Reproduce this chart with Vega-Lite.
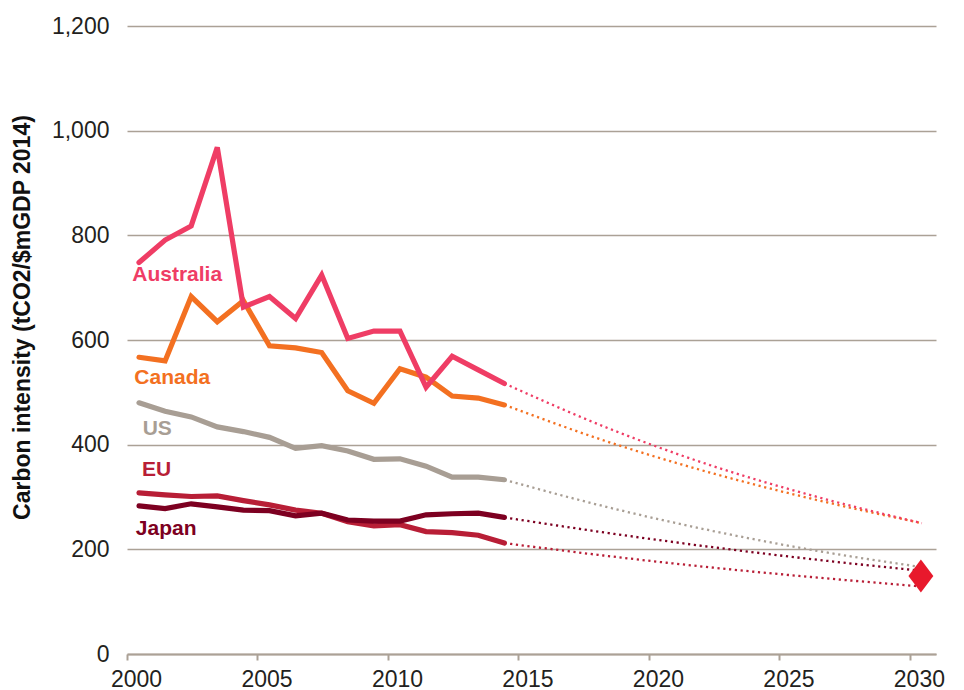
{
  "$schema": "https://vega.github.io/schema/vega-lite/v6.json",
  "width": 809,
  "height": 628,
  "autosize": {"type": "none"},
  "padding": {"left": 127, "top": 26, "right": 28, "bottom": 36},
  "background": "white",
  "config": {
    "view": {"stroke": null},
    "font": "Liberation Sans",
    "axis": {"labelFont": "Liberation Sans", "titleFont": "Liberation Sans", "labelColor": "#231f20", "titleColor": "#111111"}
  },
  "datasets": {
    "hist": [
      {"country": "EU", "year": 2000, "value": 308}, {"country": "EU", "year": 2001, "value": 304}, {"country": "EU", "year": 2002, "value": 301}, {"country": "EU", "year": 2003, "value": 302}, {"country": "EU", "year": 2004, "value": 293}, {"country": "EU", "year": 2005, "value": 285}, {"country": "EU", "year": 2006, "value": 275}, {"country": "EU", "year": 2007, "value": 269}, {"country": "EU", "year": 2008, "value": 253}, {"country": "EU", "year": 2009, "value": 245}, {"country": "EU", "year": 2010, "value": 247}, {"country": "EU", "year": 2011, "value": 234}, {"country": "EU", "year": 2012, "value": 232}, {"country": "EU", "year": 2013, "value": 227}, {"country": "EU", "year": 2014, "value": 212},
      {"country": "Japan", "year": 2000, "value": 283}, {"country": "Japan", "year": 2001, "value": 278}, {"country": "Japan", "year": 2002, "value": 287}, {"country": "Japan", "year": 2003, "value": 281}, {"country": "Japan", "year": 2004, "value": 275}, {"country": "Japan", "year": 2005, "value": 274}, {"country": "Japan", "year": 2006, "value": 264}, {"country": "Japan", "year": 2007, "value": 269}, {"country": "Japan", "year": 2008, "value": 256}, {"country": "Japan", "year": 2009, "value": 254}, {"country": "Japan", "year": 2010, "value": 254}, {"country": "Japan", "year": 2011, "value": 266}, {"country": "Japan", "year": 2012, "value": 268}, {"country": "Japan", "year": 2013, "value": 269}, {"country": "Japan", "year": 2014, "value": 261},
      {"country": "US", "year": 2000, "value": 480}, {"country": "US", "year": 2001, "value": 464}, {"country": "US", "year": 2002, "value": 453}, {"country": "US", "year": 2003, "value": 434}, {"country": "US", "year": 2004, "value": 425}, {"country": "US", "year": 2005, "value": 414}, {"country": "US", "year": 2006, "value": 393}, {"country": "US", "year": 2007, "value": 398}, {"country": "US", "year": 2008, "value": 388}, {"country": "US", "year": 2009, "value": 372}, {"country": "US", "year": 2010, "value": 373}, {"country": "US", "year": 2011, "value": 359}, {"country": "US", "year": 2012, "value": 338}, {"country": "US", "year": 2013, "value": 338}, {"country": "US", "year": 2014, "value": 333},
      {"country": "Canada", "year": 2000, "value": 567}, {"country": "Canada", "year": 2001, "value": 560}, {"country": "Canada", "year": 2002, "value": 683}, {"country": "Canada", "year": 2003, "value": 635}, {"country": "Canada", "year": 2004, "value": 675}, {"country": "Canada", "year": 2005, "value": 589}, {"country": "Canada", "year": 2006, "value": 585}, {"country": "Canada", "year": 2007, "value": 576}, {"country": "Canada", "year": 2008, "value": 503}, {"country": "Canada", "year": 2009, "value": 479}, {"country": "Canada", "year": 2010, "value": 545}, {"country": "Canada", "year": 2011, "value": 529}, {"country": "Canada", "year": 2012, "value": 493}, {"country": "Canada", "year": 2013, "value": 489}, {"country": "Canada", "year": 2014, "value": 476},
      {"country": "Australia", "year": 2000, "value": 748}, {"country": "Australia", "year": 2001, "value": 791}, {"country": "Australia", "year": 2002, "value": 818}, {"country": "Australia", "year": 2003, "value": 968}, {"country": "Australia", "year": 2004, "value": 663}, {"country": "Australia", "year": 2005, "value": 683}, {"country": "Australia", "year": 2006, "value": 641}, {"country": "Australia", "year": 2007, "value": 724}, {"country": "Australia", "year": 2008, "value": 603}, {"country": "Australia", "year": 2009, "value": 617}, {"country": "Australia", "year": 2010, "value": 617}, {"country": "Australia", "year": 2011, "value": 510}, {"country": "Australia", "year": 2012, "value": 569}, {"country": "Australia", "year": 2013, "value": 543}, {"country": "Australia", "year": 2014, "value": 517}
    ],
    "proj": [
      {"country": "EU", "year": 2014, "value": 212}, {"country": "EU", "year": 2018, "value": 187}, {"country": "EU", "year": 2022, "value": 165}, {"country": "EU", "year": 2026, "value": 146}, {"country": "EU", "year": 2030, "value": 129},
      {"country": "Japan", "year": 2014, "value": 261}, {"country": "Japan", "year": 2018, "value": 231}, {"country": "Japan", "year": 2022, "value": 204}, {"country": "Japan", "year": 2026, "value": 180}, {"country": "Japan", "year": 2030, "value": 159},
      {"country": "US", "year": 2014, "value": 333}, {"country": "US", "year": 2018, "value": 280}, {"country": "US", "year": 2022, "value": 235}, {"country": "US", "year": 2026, "value": 197}, {"country": "US", "year": 2030, "value": 166},
      {"country": "Canada", "year": 2014, "value": 476}, {"country": "Canada", "year": 2018, "value": 405}, {"country": "Canada", "year": 2022, "value": 345}, {"country": "Canada", "year": 2026, "value": 294}, {"country": "Canada", "year": 2030, "value": 250},
      {"country": "Australia", "year": 2014, "value": 517}, {"country": "Australia", "year": 2018, "value": 431}, {"country": "Australia", "year": 2022, "value": 359}, {"country": "Australia", "year": 2026, "value": 300}, {"country": "Australia", "year": 2030, "value": 250}
    ],
    "labels": [
      {"country": "Australia", "year": 2000.2, "value": 724},
      {"country": "Canada", "year": 2000.28, "value": 528},
      {"country": "US", "year": 2000.6, "value": 429},
      {"country": "EU", "year": 2000.57, "value": 352},
      {"country": "Japan", "year": 2000.34, "value": 239}
    ],
    "target": [
      {"year": 2030, "value": 149}
    ]
  },
  "encoding": {
    "x": {
      "field": "year", "type": "quantitative",
      "scale": {"domain": [2000, 2031], "nice": false, "zero": false},
      "axis": {
        "title": null, "grid": false, "values": [2000, 2005, 2010, 2015, 2020, 2025, 2030], "format": "d",
        "domainColor": "#aba196", "domainWidth": 2, "tickColor": "#aba196", "tickWidth": 2, "tickSize": 6,
        "labelFontSize": 23, "labelOffset": 9, "labelPadding": 8, "labelFlush": false
      }
    },
    "y": {
      "field": "value", "type": "quantitative",
      "scale": {"domain": [0, 1200], "nice": false},
      "axis": {
        "title": "Carbon intensity (tCO2/$mGDP 2014)", "titleFontSize": 23, "titleFontWeight": "bold",
        "titleAngle": -90, "titleAlign": "center", "titleBaseline": "middle", "titleX": -105, "titleY": 291,
        "values": [0, 200, 400, 600, 800, 1000, 1200], "format": ",d",
        "grid": true, "gridColor": "#aba196", "gridWidth": 1.6, "domain": false, "ticks": false,
        "labelFontSize": 23, "labelPadding": 18
      }
    }
  },
  "layer": [
    {
      "data": {"name": "proj"},
      "mark": {"type": "line", "interpolate": "monotone", "strokeWidth": 2.3, "strokeDash": [2.2, 3.6], "xOffset": 12},
      "encoding": {
        "color": {"field": "country", "type": "nominal", "legend": null,
          "scale": {"domain": ["Australia", "Canada", "US", "EU", "Japan"], "range": ["#ef3d65", "#f37021", "#a89e94", "#b81e36", "#7d0021"]}}
      }
    },
    {
      "data": {"name": "hist"},
      "mark": {"type": "line", "strokeWidth": 5.2, "strokeCap": "round", "xOffset": 12},
      "encoding": {
        "color": {"field": "country", "type": "nominal", "legend": null}
      }
    },
    {
      "data": {"name": "target"},
      "mark": {"type": "point", "shape": "M0,-1.33L1,0L0,1.33L-1,0Z", "size": 620, "filled": true, "opacity": 1, "color": "#e8192c", "xOffset": 11},
      "encoding": {}
    },
    {
      "data": {"name": "labels"},
      "mark": {"type": "text", "align": "left", "baseline": "middle", "fontSize": 21, "fontWeight": "bold", "font": "Liberation Sans"},
      "encoding": {
        "text": {"field": "country"},
        "color": {"field": "country", "type": "nominal", "legend": null}
      }
    }
  ]
}
